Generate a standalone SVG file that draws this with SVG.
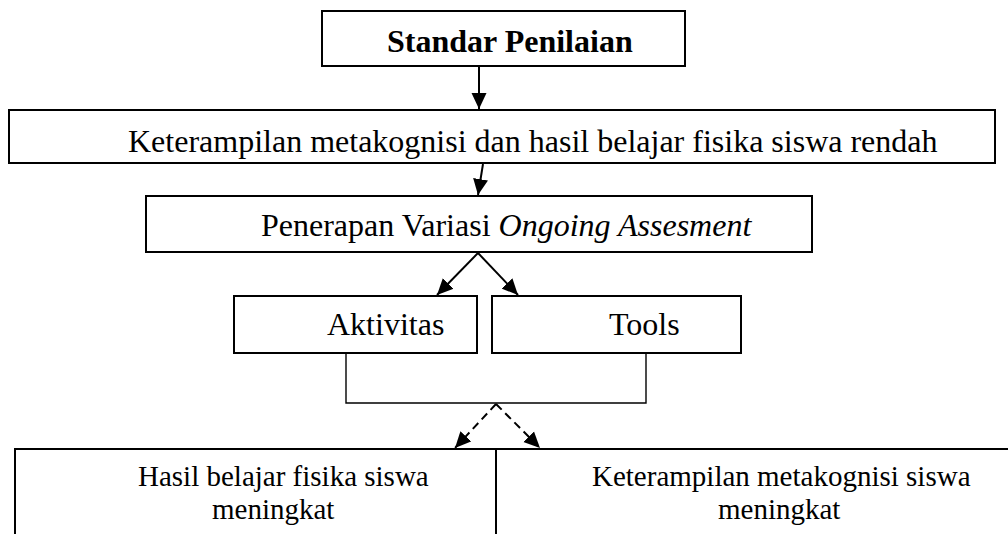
<svg xmlns="http://www.w3.org/2000/svg" width="1008" height="534" viewBox="0 0 1008 534">
<style>
  .box { fill: #fff; stroke: #000; stroke-width: 2; }
  .t { font-family: "Liberation Serif", "Times New Roman", serif; font-size: 32px; fill: #000; }
  .tb { font-weight: bold; }
  .ts { font-size: 29px; }
  .ln { fill: none; stroke: #000; stroke-width: 2; }
  .thin { fill: none; stroke: #000; stroke-width: 1.4; }
  .dash { fill: none; stroke: #000; stroke-width: 2; stroke-dasharray: 8 5; }
</style>
<defs>
  <marker id="ah" viewBox="0 0 16 16" refX="16" refY="8" markerWidth="16" markerHeight="16" markerUnits="userSpaceOnUse" orient="auto">
    <path d="M0,0.5 L16,8 L0,15.5 Z" fill="#000"/>
  </marker>
</defs>
<rect width="1008" height="534" fill="#fff"/>

<g id="n-standar">
  <rect class="box" x="322" y="11" width="363" height="55"/>
  <text class="t tb" x="387" y="52">Standar Penilaian</text>
</g>
<g id="n-rendah">
  <rect class="box" x="9" y="110" width="986" height="53"/>
  <text class="t" x="128" y="152">Keterampilan metakognisi dan hasil belajar fisika siswa rendah</text>
</g>
<g id="n-penerapan">
  <rect class="box" x="146" y="196" width="666" height="56"/>
  <text class="t" x="261" y="236">Penerapan Variasi <tspan font-style="italic">Ongoing Assesment</tspan></text>
</g>
<g id="n-aktivitas">
  <rect class="box" x="234" y="296" width="243" height="57"/>
  <text class="t" x="327" y="335">Aktivitas</text>
</g>
<g id="n-tools">
  <rect class="box" x="492" y="296" width="249" height="57"/>
  <text class="t" x="609" y="335">Tools</text>
</g>
<g id="n-hasil">
  <rect class="box" x="15" y="449" width="481" height="120"/>
  <text class="t ts" x="138" y="486">Hasil belajar fisika siswa</text>
  <text class="t ts" x="212" y="519">meningkat</text>
</g>
<g id="n-meta">
  <rect class="box" x="496" y="449" width="540" height="120"/>
  <text class="t ts" x="592" y="486">Keterampilan metakognisi siswa</text>
  <text class="t ts" x="718" y="519">meningkat</text>
</g>

<g id="connectors">
  <line class="ln" x1="479" y1="67" x2="479" y2="109" marker-end="url(#ah)"/>
  <line class="ln" x1="483" y1="164" x2="478" y2="195" marker-end="url(#ah)"/>
  <line class="ln" x1="478" y1="253" x2="437" y2="295" marker-end="url(#ah)"/>
  <line class="ln" x1="478" y1="253" x2="518" y2="295" marker-end="url(#ah)"/>
  <polyline class="thin" points="346,354 346,403 646,403 646,354"/>
  <line class="dash" x1="496" y1="404" x2="455" y2="448" marker-end="url(#ah)"/>
  <line class="dash" x1="496" y1="404" x2="540" y2="448" marker-end="url(#ah)"/>
</g>
</svg>
